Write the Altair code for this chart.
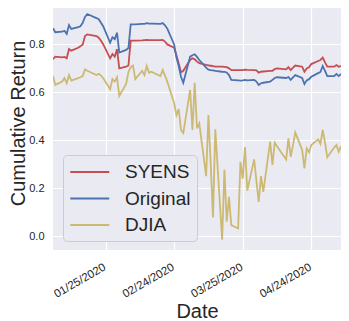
import altair as alt
import pandas as pd

dates = [
    "2020-01-02", "2020-01-03", "2020-01-06", "2020-01-07", "2020-01-08", "2020-01-09", "2020-01-10",
    "2020-01-13", "2020-01-14", "2020-01-15", "2020-01-16", "2020-01-17",
    "2020-01-21", "2020-01-22", "2020-01-23", "2020-01-24",
    "2020-01-27", "2020-01-28", "2020-01-29", "2020-01-30", "2020-01-31",
    "2020-02-03", "2020-02-04", "2020-02-05", "2020-02-06", "2020-02-07",
    "2020-02-10", "2020-02-11", "2020-02-12", "2020-02-13", "2020-02-14",
    "2020-02-18", "2020-02-19", "2020-02-20", "2020-02-21",
    "2020-02-24", "2020-02-25", "2020-02-26", "2020-02-27", "2020-02-28",
    "2020-03-02", "2020-03-03", "2020-03-04", "2020-03-05", "2020-03-06",
    "2020-03-09", "2020-03-10", "2020-03-11", "2020-03-12", "2020-03-13",
    "2020-03-16", "2020-03-17", "2020-03-18", "2020-03-19", "2020-03-20",
    "2020-03-23", "2020-03-24", "2020-03-25", "2020-03-26", "2020-03-27",
    "2020-03-30", "2020-03-31", "2020-04-01", "2020-04-02", "2020-04-03",
    "2020-04-06", "2020-04-07", "2020-04-08", "2020-04-09",
    "2020-04-13", "2020-04-14", "2020-04-15", "2020-04-16", "2020-04-17",
    "2020-04-20", "2020-04-21", "2020-04-22", "2020-04-23", "2020-04-24",
    "2020-04-27", "2020-04-28", "2020-04-29", "2020-04-30", "2020-05-01",
    "2020-05-04", "2020-05-05", "2020-05-06", "2020-05-07",
]

syens = [
    0.738, 0.749, 0.746, 0.748, 0.742, 0.781, 0.774,
    0.786, 0.792, 0.800, 0.835, 0.842,
    0.835, 0.828, 0.815, 0.800,
    0.742, 0.760, 0.749, 0.780, 0.700,
    0.707, 0.712, 0.816, 0.816, 0.816,
    0.817, 0.818, 0.819, 0.818, 0.818,
    0.818, 0.819, 0.812, 0.800,
    0.786, 0.755, 0.720, 0.684, 0.690,
    0.735, 0.742, 0.738, 0.728, 0.722,
    0.715, 0.713, 0.711, 0.709, 0.707,
    0.707, 0.706, 0.705, 0.700, 0.693,
    0.693, 0.693, 0.693, 0.695, 0.694,
    0.693, 0.692, 0.682, 0.686, 0.687,
    0.690, 0.690, 0.697, 0.700,
    0.696, 0.705, 0.693, 0.703, 0.712,
    0.707, 0.686, 0.700, 0.705, 0.718,
    0.731, 0.735, 0.745, 0.725, 0.707,
    0.707, 0.714, 0.707, 0.710,
]

original = [
    0.868, 0.851, 0.853, 0.857, 0.844, 0.881, 0.865,
    0.872, 0.876, 0.890, 0.915, 0.927,
    0.910, 0.905, 0.890, 0.875,
    0.807, 0.830, 0.822, 0.849, 0.766,
    0.777, 0.785, 0.884, 0.884, 0.884,
    0.886, 0.886, 0.889, 0.887, 0.887,
    0.886, 0.889, 0.880, 0.866,
    0.800, 0.745, 0.710, 0.665, 0.640,
    0.749, 0.755, 0.759, 0.748, 0.735,
    0.703, 0.695, 0.693, 0.692, 0.690,
    0.686, 0.685, 0.683, 0.672, 0.652,
    0.650, 0.649, 0.650, 0.652, 0.650,
    0.652, 0.645, 0.631, 0.638, 0.640,
    0.645, 0.652, 0.660, 0.663,
    0.660, 0.664, 0.652, 0.662, 0.672,
    0.660, 0.635, 0.650, 0.655, 0.665,
    0.680, 0.685, 0.710, 0.690, 0.668,
    0.668, 0.677, 0.668, 0.677,
]

djia = [
    0.668, 0.631, 0.645, 0.659, 0.638, 0.672, 0.649,
    0.659, 0.663, 0.668, 0.696, 0.690,
    0.672, 0.677, 0.670, 0.659,
    0.613, 0.655, 0.645, 0.663, 0.585,
    0.635, 0.685, 0.705, 0.712, 0.655,
    0.690, 0.672, 0.710, 0.682, 0.686,
    0.668, 0.693, 0.670, 0.645,
    0.555, 0.505, 0.530, 0.443, 0.430,
    0.610, 0.443, 0.640, 0.450, 0.470,
    0.250, 0.505, 0.300, 0.078, 0.446,
    -0.015, 0.277, 0.060, 0.164, 0.046,
    0.032, 0.310, 0.240, 0.372, 0.190,
    0.320, 0.230, 0.143, 0.250, 0.185,
    0.394, 0.297, 0.390, 0.375,
    0.320, 0.408, 0.331, 0.380, 0.432,
    0.360, 0.283, 0.366, 0.350, 0.380,
    0.404, 0.385, 0.443, 0.390, 0.329,
    0.370, 0.380, 0.352, 0.376,
]

series_names = ["SYENS", "Original", "DJIA"]
series_colors = ["#C44E52", "#4C72B0", "#CCB974"]
x_ticks = ["2020-01-25", "2020-02-24", "2020-03-25", "2020-04-24"]
y_ticks = [0.0, 0.2, 0.4, 0.6, 0.8]

rows = []
for i, (name, vals) in enumerate(zip(series_names, [syens, original, djia])):
    for d, v in zip(dates, vals):
        rows.append({"Date": d + "T00:00:00", "Series": name, "Value": v, "k": i})
df = pd.DataFrame(rows)


def dt(s):
    y, m, d = s.split("-")
    return alt.DateTime(year=int(y), month=int(m), date=int(d))


FONT = "Liberation Sans"

chart = (
    alt.Chart(df)
    .mark_line(strokeWidth=1.8, clip=True)
    .encode(
        x=alt.X(
            "Date:T",
            title="Date",
            scale=alt.Scale(domain=[dt(dates[0]), dt(dates[-1])]),
            axis=alt.Axis(
                values=[dt(s) for s in x_ticks],
                format="%m/%d/%Y",
                labelAngle=-30,
                labelAlign="right",
                labelBaseline="top",
                labelPadding=11,
                labelOffset=-4,
                labelFontSize=11.5,
                titleY=67,
                titleBaseline="alphabetic",
            ),
        ),
        y=alt.Y(
            "Value:Q",
            title="Cumulative Return",
            scale=alt.Scale(domain=[-0.058, 0.952], nice=False, zero=False),
            axis=alt.Axis(
                values=y_ticks,
                format=".1f",
                labelPadding=9,
                titleX=-29,
                titleY=115,
                titleBaseline="alphabetic",
            ),
        ),
        color=alt.Color(
            "Series:N",
            scale=alt.Scale(domain=series_names, range=series_colors),
            legend=alt.Legend(
                orient="none",
                legendX=10,
                legendY=147,
                title=None,
                symbolType="M-1,0H3",
                symbolSize=380,
                symbolStrokeWidth=1.8,
                symbolFillColor="transparent",
                labelFontSize=19,
                labelFont=FONT,
                labelColor="#262626",
                fillColor="#EAEAF2",
                strokeColor="#cccccc",
                cornerRadius=4,
                padding=6,
                rowPadding=5.5,
                labelOffset=34,
            ),
        ),
        order=alt.Order("k:Q"),
    )
    .properties(
        width=288,
        height=242,
        autosize=alt.AutoSizeParams(type="none"),
        padding={"left": 45, "top": 0, "right": 0, "bottom": 75},
    )
    .configure_view(fill="#EAEAF2", stroke=None)
    .configure_axis(
        domain=False,
        ticks=False,
        grid=True,
        gridColor="#ffffff",
        gridWidth=1.2,
        labelFont=FONT,
        labelFontSize=11,
        labelColor="#262626",
        titleFont=FONT,
        titleFontSize=20,
        titleFontWeight="normal",
        titleColor="#262626",
    )
)

chart.save("out.html", embed_options={"renderer": "svg", "actions": False})
